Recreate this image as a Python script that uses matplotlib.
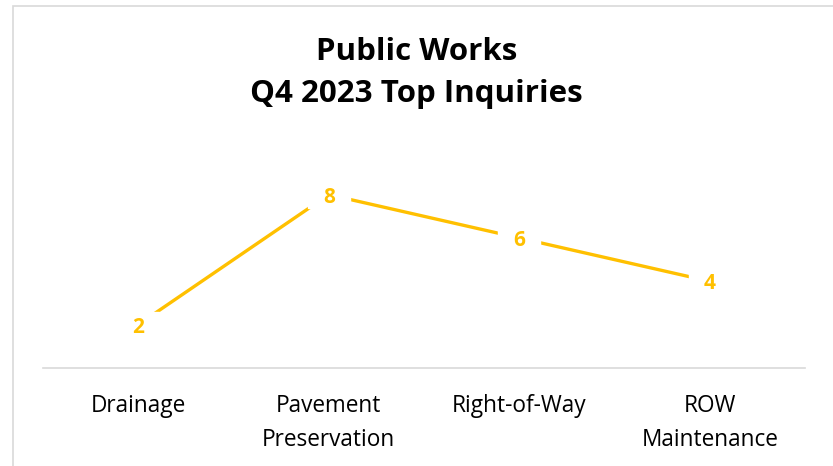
import matplotlib
matplotlib.use("Agg")
import matplotlib.pyplot as plt
from matplotlib.patches import Rectangle

categories = ["Drainage", "Pavement\nPreservation", "Right-of-Way", "ROW\nMaintenance"]
inquiries = [2, 8, 6, 4]
title_lines = ["Public Works", "Q4 2023 Top Inquiries"]

GOLD = "#FFC000"
GRID = "#D9D9D9"
W, H = 833, 466

plt.rcParams["font.family"] = ["Open Sans", "DejaVu Sans"]

fig = plt.figure(figsize=(W / 100, H / 100), dpi=100)
ax = fig.add_axes([43 / W, (H - 368) / H, 762 / W, 216.7 / H])

x = list(range(len(categories)))
# white rectangular markers mask the line behind each data label
label_box = [(-21, -13), (21, -13), (21, 13), (-21, 13), (-21, -13)]
ax.plot(x, inquiries, color=GOLD, lw=2.4, marker=label_box, markersize=30,
        mfc="white", mec="white", zorder=2)
for xi, v in zip(x, inquiries):
    ax.text(xi, v, str(v), color=GOLD, fontsize=15, fontweight="bold",
            ha="center", va="center_baseline", zorder=3)

ax.set_xlim(-0.5, len(categories) - 0.5)
ax.set_ylim(0, 10)
ax.set_yticks([])
ax.set_xticks(x)
ax.set_xticklabels(categories, fontsize=16.3, color="#000000", linespacing=1.55)
ax.tick_params(axis="x", length=0, pad=19)
for side in ["top", "left", "right"]:
    ax.spines[side].set_visible(False)
ax.spines["bottom"].set_color(GRID)
ax.spines["bottom"].set_linewidth(1.2)

fig.text(0.5, 1 - 52 / H, title_lines[0], ha="center", va="center",
         fontsize=22.5, fontweight="bold")
fig.text(0.5, 1 - 94 / H, title_lines[1], ha="center", va="center",
         fontsize=22.5, fontweight="bold")

# chart border
fig.patches.append(Rectangle((13 / W, -0.05), (W + 5) / W, 1 - 5.5 / H + 0.05,
                             transform=fig.transFigure, fill=False,
                             edgecolor=GRID, lw=1.2))

fig.savefig("out.png", dpi=100)
